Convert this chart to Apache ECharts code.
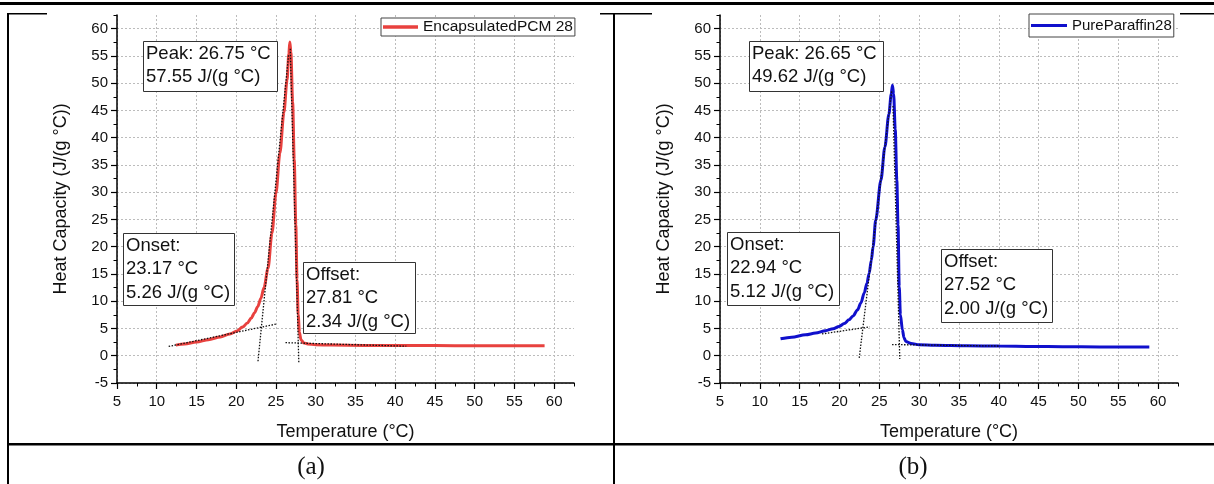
<!DOCTYPE html>
<html>
<head>
<meta charset="utf-8">
<script src="https://cdn.jsdelivr.net/npm/echarts@6/dist/echarts.min.js"></script>
<style>
  html, body { margin: 0; padding: 0; background: #fff; }
  #chart { width: 1214px; height: 484px; }
</style>
</head>
<body>
<div id="chart"></div>
<script>
// axis ticks
const xTicks = [5, 10, 15, 20, 25, 30, 35, 40, 45, 50, 55, 60]
const yTicks = [-5, 0, 5, 10, 15, 20, 25, 30, 35, 40, 45, 50, 55, 60]

// (a) EncapsulatedPCM 28, [temperature, heat capacity]
const curveA = [
  [12.4, 1.95], [13.5, 2.15], [15, 2.5], [16.5, 2.95], [18, 3.45], [19.2, 4.0],
  [20.1, 4.55], [20.8, 5.25], [21.4, 6.0], [21.9, 6.9], [22.3, 7.9], [22.7, 9.0],
  [23.1, 10.5], [23.5, 12.5], [24.0, 16.0], [24.5, 22.5], [25.0, 29.8], [25.5, 37.2],
  [26.0, 44.6], [26.4, 50.6], [26.62, 55.4], [26.75, 57.55], [26.88, 55.6], [27.1, 46.5],
  [27.3, 36.0], [27.5, 24.0], [27.65, 14.0], [27.8, 7.5], [27.95, 4.3], [28.15, 2.9],
  [28.5, 2.35], [29, 2.15], [30, 2.02], [32, 1.95], [36, 1.9], [40, 1.87],
  [45, 1.86], [50, 1.85], [55, 1.85], [58.8, 1.85]
]
const tangentsA = [
  [[11.5, 1.7], [25.0, 5.8]],
  [[22.74, -1.0], [26.6, 55.3]],
  [[26.8, 56.3], [27.88, -1.4]],
  [[26.2, 2.4], [41.4, 1.75]]
]
const peakA = [26.75, 57.55]
const onsetA = [23.17, 5.26]
const offsetA = [27.81, 2.34]

// (b) PureParaffin28
const curveB = [
  [12.6, 3.1], [14, 3.4], [15.75, 3.85], [17, 4.15], [18.25, 4.6], [19.2, 4.95],
  [19.95, 5.37], [20.6, 5.9], [21.2, 6.6], [21.7, 7.3], [22.25, 8.4], [22.7, 9.7],
  [23.1, 11.5], [23.45, 13.3], [23.72, 15.1], [24.0, 17.5], [24.22, 20.0], [24.55, 24.9],
  [25.2, 32.2], [25.7, 38.3], [26.2, 44.3], [26.5, 48.0], [26.65, 49.62], [26.8, 48.0],
  [27.0, 41.5], [27.2, 32.2], [27.35, 24.0], [27.5, 12.7], [27.65, 7.5], [27.9, 4.76],
  [28.1, 3.3], [28.33, 2.62], [29, 2.25], [30, 2.0], [32, 1.92], [36, 1.83],
  [40, 1.78], [44.3, 1.7], [48, 1.66], [52.7, 1.6], [56, 1.6], [58.9, 1.6]
]
const tangentsB = [
  [[17.8, 4.0], [23.8, 5.3]],
  [[22.48, -0.4], [26.55, 48.5]],
  [[26.72, 45.8], [27.57, -0.6]],
  [[26.6, 2.05], [40, 1.78]]
]
const peakB = [26.65, 49.62]
const onsetB = [22.94, 5.12]
const offsetB = [27.52, 2.0]

const FONT = '"Liberation Sans", Arial, sans-serif'
const SERIF = '"Liberation Serif", "DejaVu Serif", serif'

const chart = echarts.init(document.getElementById('chart'), null, { renderer: 'canvas' })

const gridLine = { show: true, lineStyle: { color: '#bcbcbc', type: [2, 2], width: 1 } }

function xAxes (gridIndex) {
  return [
    {
      type: 'value', gridIndex, min: 5, max: 62.5, interval: 2.5, position: 'bottom',
      axisLine: { show: true, onZero: false, lineStyle: { color: '#000', width: 1.5 } },
      axisTick: { show: true, customValues: xTicks, length: 6, lineStyle: { color: '#000', width: 1.2 } },
      axisLabel: { customValues: xTicks, margin: 11, fontSize: 15, color: '#111', fontFamily: FONT },
      splitLine: gridLine,
      name: 'Temperature (°C)', nameLocation: 'middle', nameGap: 40,
      nameTextStyle: { fontSize: 18, color: '#111', fontFamily: FONT }
    },
    {
      type: 'value', gridIndex, min: 5, max: 62.5, interval: 2.5, position: 'bottom',
      axisLine: { show: false, onZero: false },
      axisTick: { show: true, length: 3.5, lineStyle: { color: '#000', width: 1 } },
      axisLabel: { show: false },
      splitLine: { show: false }
    }
  ]
}

function yAxes (gridIndex) {
  return [
    {
      type: 'value', gridIndex, min: -5, max: 62.5, interval: 2.5, position: 'left',
      axisLine: { show: true, onZero: false, lineStyle: { color: '#000', width: 1.5 } },
      axisTick: { show: true, customValues: yTicks, length: 6, lineStyle: { color: '#000', width: 1.2 } },
      axisLabel: { customValues: yTicks, margin: 9, fontSize: 15, color: '#111', fontFamily: FONT },
      splitLine: gridLine,
      name: 'Heat Capacity (J/(g °C))', nameLocation: 'middle', nameGap: 47,
      nameTextStyle: { fontSize: 18, color: '#111', fontFamily: FONT }
    },
    {
      type: 'value', gridIndex, min: -5, max: 62.5, interval: 2.5, position: 'left',
      axisLine: { show: false, onZero: false },
      axisTick: { show: true, length: 3.5, lineStyle: { color: '#000', width: 1 } },
      axisLabel: { show: false },
      splitLine: { show: false }
    }
  ]
}

function tangentSeries (list, axisIndex) {
  return list.map(item => {
    return {
      type: 'line',
      xAxisIndex: axisIndex,
      yAxisIndex: axisIndex,
      data: item,
      symbol: 'none',
      silent: true,
      z: 5,
      lineStyle: { color: '#111', width: 1.3, type: [1.5, 1.5] }
    }
  })
}

// annotation boxes
function peakText (p) {
  return 'Peak: ' + p[0].toFixed(2) + ' °C\n' + p[1].toFixed(2) + ' J/(g °C)'
}
function edgeText (title, p) {
  return title + ':\n' + p[0].toFixed(2) + ' °C\n' + p[1].toFixed(2) + ' J/(g °C)'
}
function box (x, y, w, h, text) {
  return [
    {
      type: 'rect', z: 20,
      shape: { x: x + 0.5, y: y + 0.5, width: w, height: h },
      style: { fill: '#fff', stroke: '#333', lineWidth: 1 }
    },
    {
      type: 'text', z: 21, x: x + 3, y: y + 1,
      style: { text, font: '18.5px ' + FONT, fill: '#111', lineHeight: 23.5 }
    }
  ]
}

const tableLines = [
  { type: 'rect', shape: { x: 0, y: 2, width: 1214, height: 3 }, style: { fill: '#000' } },
  { type: 'rect', shape: { x: 7, y: 13, width: 2, height: 471 }, style: { fill: '#000' } },
  { type: 'rect', shape: { x: 613, y: 13, width: 2, height: 471 }, style: { fill: '#000' } },
  { type: 'rect', shape: { x: 7, y: 443, width: 1207, height: 2.5 }, style: { fill: '#000' } },
  { type: 'rect', shape: { x: 8, y: 13, width: 39, height: 1.5 }, style: { fill: '#000' } },
  { type: 'rect', shape: { x: 600, y: 13, width: 52, height: 1.5 }, style: { fill: '#000' } },
  { type: 'rect', shape: { x: 1180, y: 13, width: 34, height: 1.5 }, style: { fill: '#000' } }
]

const captions = [
  { type: 'text', x: 311, y: 467, style: { text: '(a)', font: '25px ' + SERIF, fill: '#111', align: 'center', verticalAlign: 'middle' } },
  { type: 'text', x: 913, y: 467, style: { text: '(b)', font: '25px ' + SERIF, fill: '#111', align: 'center', verticalAlign: 'middle' } }
]

const chartOption = {
  animation: false,
  backgroundColor: '#fff',
  grid: [
    { left: 117, top: 15, width: 457, height: 368 },
    { left: 720, top: 15, width: 458, height: 368 }
  ],
  xAxis: xAxes(0).concat(xAxes(1)),
  yAxis: yAxes(0).concat(yAxes(1)),
  legend: [
    {
      data: ['EncapsulatedPCM 28'], left: 381, top: 18, padding: [1, 2, 1, 2],
      icon: 'rect', itemWidth: 35, itemHeight: 3.5, itemGap: 0,
      borderColor: '#444', borderWidth: 1, backgroundColor: '#fff',
      textStyle: { fontSize: 15.5, color: '#111', fontFamily: FONT }
    },
    {
      data: ['PureParaffin28'], left: 1029, top: 14, padding: [4, 2, 4, 2],
      icon: 'rect', itemWidth: 36, itemHeight: 3, itemGap: 0,
      borderColor: '#444', borderWidth: 1, backgroundColor: '#fff',
      textStyle: { fontSize: 15, color: '#111', fontFamily: FONT }
    }
  ],
  graphic: [].concat(
    tableLines,
    captions,
    box(143, 41, 134, 50, peakText(peakA)),
    box(123, 233, 111, 72, edgeText('Onset', onsetA)),
    box(303, 262, 112, 71, edgeText('Offset', offsetA)),
    box(749, 41, 134, 50, peakText(peakB)),
    box(727, 232, 112, 73, edgeText('Onset', onsetB)),
    box(941, 249, 111, 73, edgeText('Offset', offsetB))
  ),
  series: [
    {
      name: 'EncapsulatedPCM 28', type: 'line', xAxisIndex: 0, yAxisIndex: 0,
      data: curveA, symbol: 'none', smooth: 0.3, smoothMonotone: 'x',
      color: '#e8413e', lineStyle: { color: '#e8413e', width: 3 }, z: 3
    },
    {
      name: 'PureParaffin28', type: 'line', xAxisIndex: 2, yAxisIndex: 2,
      data: curveB, symbol: 'none', smooth: 0.3, smoothMonotone: 'x',
      color: '#1010cc', lineStyle: { color: '#1010cc', width: 3 }, z: 3
    }
  ].concat(tangentSeries(tangentsA, 0), tangentSeries(tangentsB, 2))
}

chart.setOption(chartOption)
</script>
</body>
</html>
